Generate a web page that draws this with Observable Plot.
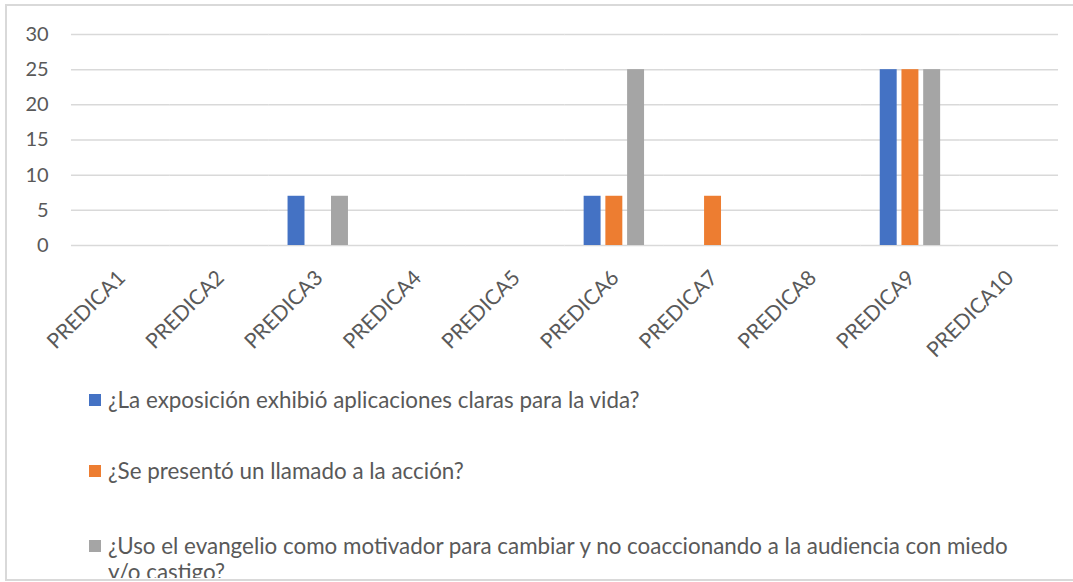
<!DOCTYPE html>
<html>
<head>
<meta charset="utf-8">
<script src="https://cdn.jsdelivr.net/npm/d3@7"></script>
<script src="https://cdn.jsdelivr.net/npm/@observablehq/plot@0.6"></script>
<style>
  html, body { margin: 0; padding: 0; background: #fff; }
  #wrap { position: relative; width: 1073px; height: 582px; overflow: hidden; background: #fff; }
  #frame { position: absolute; left: 5px; top: 4px; width: 1100px; height: 577px; border: 2px solid #d9d9d9; box-sizing: border-box; }
  #chart { position: absolute; left: 0; top: 0; }
  #legend { position: absolute; left: 0; top: 380px; width: 1073px; height: 198px; overflow: hidden;
            font-family: Lato, "Noto Sans", sans-serif; font-size: 22.4px; color: #595959; }
  .item { position: absolute; left: 89px; white-space: nowrap; line-height: 26px; }
  .sw { position: absolute; left: 0; top: 7px; width: 12px; height: 12px; }
  .txt { position: absolute; left: 19px; top: 0; }
</style>
</head>
<body>
<div id="wrap">
  <div id="frame"></div>
  <div id="chart"></div>
  <div id="legend"></div>
</div>
<script>
const categories = ["PREDICA1","PREDICA2","PREDICA3","PREDICA4","PREDICA5","PREDICA6","PREDICA7","PREDICA8","PREDICA9","PREDICA10"];
const seriesNames = [
  "¿La exposición exhibió aplicaciones claras para la vida?",
  "¿Se presentó un llamado a la acción?",
  "¿Uso el evangelio como motivador para cambiar y no coaccionando a la audiencia con miedo y/o castigo?"
];
const aplicaciones = [0, 0, 7, 0, 0, 7, 0, 0, 25, 0];
const llamado      = [0, 0, 0, 0, 0, 7, 7, 0, 25, 0];
const evangelio    = [0, 0, 7, 0, 0, 25, 0, 0, 25, 0];
const colors = ["#4472C4", "#ED7D31", "#A5A5A5"];
const yTicks = [0, 5, 10, 15, 20, 25, 30];

const seriesValues = [aplicaciones, llamado, evangelio];
const data = [];
categories.forEach((c, i) => {
  seriesNames.forEach((s, j) => data.push({cat: c, series: s, value: seriesValues[j][i]}));
});

const chart = Plot.plot({
  width: 1073,
  height: 380,
  marginLeft: 57,
  marginRight: 16,
  marginTop: 34,
  marginBottom: 135,
  style: {fontFamily: "Lato, 'Noto Sans', sans-serif", fontSize: "19px", color: "#595959", background: "transparent"},
  fx: {domain: categories, paddingInner: 0.388, paddingOuter: 0.26, align: 0.646, round: false, label: null},
  x: {domain: seriesNames, paddingInner: 0.22, paddingOuter: 0, round: false, axis: null},
  y: {domain: [0, 30], label: null},
  color: {domain: seriesNames, range: colors},
  marks: [
    Plot.ruleY(yTicks, {stroke: "#d9d9d9", strokeWidth: 1.5, insetLeft: -19.2, insetRight: -19.2}),
    Plot.barY(data, {fx: "cat", x: "series", y: "value", fill: "series", filter: d => d.value > 0}),
    Plot.axisY({ticks: yTicks, tickSize: 0, dx: -33, tickFormat: d => String(d), label: null, fontSize: 20, fill: "#595959"}),
    Plot.axisFx({anchor: "bottom", tickRotate: -45, tickSize: 0, dx: 1, dy: 17, label: null, fontSize: 21, fill: "#595959"})
  ]
});
document.getElementById("chart").appendChild(chart);

// legend below the chart
const legend = document.getElementById("legend");
const rowTops = [7, 78, 153];
seriesNames.forEach((s, j) => {
  const item = document.createElement("div");
  item.className = "item";
  item.style.top = rowTops[j] + "px";
  const sw = document.createElement("div");
  sw.className = "sw";
  sw.style.background = colors[j];
  const t = document.createElement("div");
  t.className = "txt";
  if (j === 2) {
    const cut = s.indexOf(" y/o");
    t.appendChild(document.createTextNode(s.slice(0, cut)));
    t.appendChild(document.createElement("br"));
    t.appendChild(document.createTextNode(s.slice(cut + 1)));
  } else {
    t.textContent = s;
  }
  item.appendChild(sw);
  item.appendChild(t);
  legend.appendChild(item);
});
</script>
</body>
</html>
